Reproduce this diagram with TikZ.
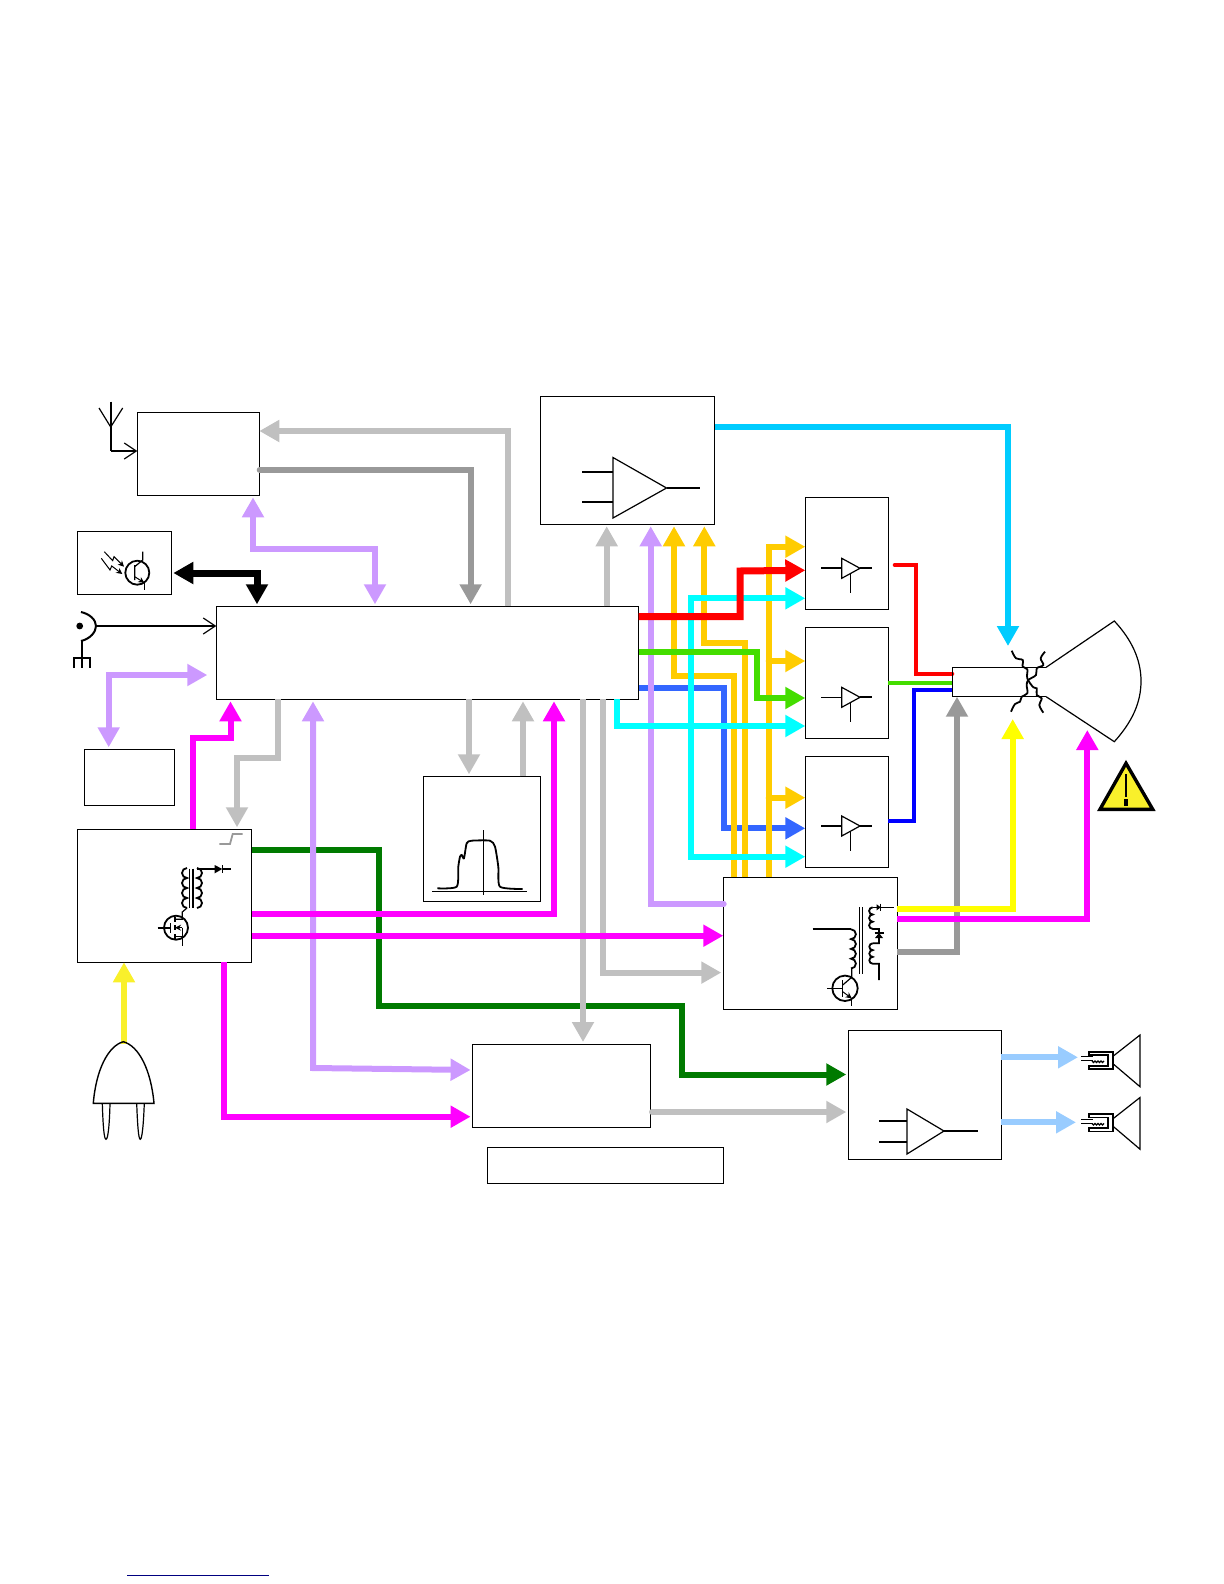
\documentclass[tikz,border=0pt]{standalone}
\usetikzlibrary{arrows.meta}
\definecolor{lgrey}{HTML}{C0C0C0}
\definecolor{dgrey}{HTML}{999999}
\definecolor{lilac}{HTML}{CC99FF}
\definecolor{magent}{HTML}{FF00FF}
\definecolor{dgreen}{HTML}{007A00}
\definecolor{amber}{HTML}{FFCC00}
\definecolor{cyanb}{HTML}{00FFFF}
\definecolor{lime}{HTML}{44DD00}
\definecolor{bluev}{HTML}{3366FF}
\definecolor{skyb}{HTML}{00CCFF}
\definecolor{paleb}{HTML}{99CCFF}
\definecolor{plugy}{HTML}{F9F02B}
\definecolor{yellowb}{HTML}{FFFF00}
\definecolor{navyline}{HTML}{000080}
\begin{document}
\begin{tikzpicture}[x=0.5pt,y=-0.5pt,
  box/.style={draw,line width=0.5pt,inner sep=0pt,outer sep=0pt},
  bus/.style={line width=3pt,-{Triangle[width=10.5pt,length=10pt]},shorten >=1pt},
  dbus/.style={line width=3pt,{Triangle[width=10.5pt,length=10pt]}-{Triangle[width=10.5pt,length=10pt]},shorten >=1pt,shorten <=1pt},
  wire/.style={line width=2pt},
  sym/.style={line width=0.6pt},
  symb/.style={line width=0.9pt},
  open/.style={line width=0.6pt,-{Straight Barb[length=6pt,width=8pt]}},
  small/.style={line width=0.5pt,-{Stealth[length=3pt,width=3pt]}},
  coildn/.pic={\draw[symb] (0,0) arc[start angle=-90,end angle=90,radius=#1] arc[start angle=-90,end angle=90,radius=#1] arc[start angle=-90,end angle=90,radius=#1] arc[start angle=-90,end angle=90,radius=#1];},
  coillf/.pic={\draw[symb] (0,0) arc[start angle=-90,end angle=-270,radius=#1] arc[start angle=-90,end angle=-270,radius=#1] arc[start angle=-90,end angle=-270,radius=#1] arc[start angle=-90,end angle=-270,radius=#1];},
  speaker/.pic={
    \draw[sym] (13.3,-4) -- (40,-25) -- (40,26.7) -- (13.3,4) -- cycle;
    \draw[symb] (-10.7,-8.3) -- (12.7,-8.3) -- (12.7,9) -- (-10.7,9) -- (-10.7,5.7) -- (8.3,5.7) -- (8.3,-5) -- (-10.7,-5) -- cycle;
    \draw[sym] (-19,-3.3) -- (-7,-3.3) (-19,0.7) -- (-7,0.7);
    \draw[sym] (-8,1) arc[start angle=180,end angle=0,radius=1.5] arc[start angle=180,end angle=0,radius=1.5] arc[start angle=180,end angle=0,radius=1.5] arc[start angle=180,end angle=0,radius=1.5] -- (4,1);
  }]
\useasboundingbox (0,0) rectangle (1224,1584);

% boxes
\node[box,minimum width=61pt,minimum height=41.5pt] (tuner) at (198.3,453.8) {};
\node[box,minimum width=47pt,minimum height=31.5pt] (irrx) at (124.3,562.8) {};
\node[box,minimum width=211.2pt,minimum height=46.5pt] (main) at (427.5,652.8) {};
\node[box,minimum width=58.5pt,minimum height=62.5pt] (saw) at (481.8,838.8) {};
\node[box,minimum width=87.2pt,minimum height=66.5pt] (power) at (164.5,895.8) {};
\node[box,minimum width=45pt,minimum height=28pt] (nvm) at (129,777.3) {};
\node[box,minimum width=86.85pt,minimum height=63.65pt] (video) at (627.8,460.6) {};
\node[box,minimum width=41.5pt,minimum height=56.15pt] (rdrv) at (846.8,553.2) {};
\node[box,minimum width=41.5pt,minimum height=55.5pt] (gdrv) at (846.8,682.8) {};
\node[box,minimum width=41.5pt,minimum height=55.5pt] (bdrv) at (846.8,811.8) {};
\node[box,minimum width=87pt,minimum height=66.35pt] (hvout) at (810.3,943.6) {};
\node[box,minimum width=88.9pt,minimum height=41.5pt] (sndif) at (561.5,1085.5) {};
\node[box,minimum width=118pt,minimum height=18pt] (caption) at (605.3,1165.3) {};
\node[box,minimum width=76.5pt,minimum height=64.5pt] (audio) at (924.8,1094.8) {};
\node[inner sep=0pt,outer sep=0pt,minimum width=46.9pt,minimum height=14.7pt] (neck) at (999.2,682) {};
\coordinate (yokein) at (1008,648);
\coordinate (focusin) at (1012.7,717);
\coordinate (anodein) at (1087.3,728);
\coordinate (spkone) at (1080,1057.3);
\coordinate (spktwo) at (1078,1122.3);

% around the main box
\draw[bus,dgreen] (power.east |- 0,850) -| (378.7,1006) -| (681.7,1074.5) -- (audio.west |- 0,1074.5);
\draw[bus,lgrey,shorten >=0pt] (main.north -| 508,0) |- (tuner.east |- 0,431);
\draw[bus,dgrey,line cap=round] (259.7,470) -- (470.6,470) -- (main.north -| 470.6,0);
\draw[dbus,lilac] (tuner.south -| 253,0) |- (375,549) -- (main.north -| 375,0);
\draw[dbus,black,line width=3.5pt] (irrx.east |- 0,573) -| (main.north -| 257,0);
\draw[dbus,lilac,shorten <=4.5pt] (main.west |- 0,675) -| (nvm.north -| 108.7,0);
\draw[bus,lgrey] (main.south -| 278,0) |- (237,757.5) -- (power.north -| 237,0);
\draw[bus,lgrey] (main.south -| 469,0) -- (saw.north -| 469,0);
\draw[bus,lgrey] (saw.north -| 523,0) -- (main.south -| 523,0);
\draw[dbus,lilac] (main.south -| 313,0) -- (313,1068) -- (sndif.west |- 0,1070);
\draw[bus,lgrey] (main.south -| 583,0) -- (sndif.north -| 583,0);
\draw[bus,lgrey] (main.north -| 606.7,0) -- (video.south -| 606.7,0);
\draw[bus,lgrey] (main.south -| 603,0) |- (hvout.west |- 0,972.6);
\draw[bus,magent] (power.north -| 193,0) |- (230.5,738) -- (main.south -| 230.5,0);
\draw[bus,magent] (power.east |- 0,913.7) -| (main.south -| 554,0);
\draw[bus,magent,shorten >=0pt] (power.east |- 0,935.7) -- (hvout.west |- 0,935.7);
\draw[bus,magent] (power.south -| 224,0) |- (sndif.west |- 0,1116.7);
\draw[bus,plugy,shorten >=0pt] (124,1044) -- (power.south -| 124,0);
\draw[bus,lgrey,line cap=round] (652,1112) -- (audio.west |- 0,1112);
\draw[bus,paleb] (audio.east |- 0,1057.3) -- (spkone);
\draw[bus,paleb] (audio.east |- 0,1122.3) -- (spktwo);

% video signals
\draw[bus,bluev,shorten >=0pt] (main.east |- 0,688.3) -| (724,828.3) -- (bdrv.west |- 0,828.3);
\draw[bus,lilac,line cap=round] (723.7,904) -| (video.south -| 650.7,0);
\draw[bus,amber] (hvout.north -| 734.3,0) |- (674,675.7) -- (video.south -| 674,0);
\draw[bus,amber] (hvout.north -| 745,0) |- (704.3,642.7) -- (video.south -| 704.3,0);
\draw[bus,amber,shorten >=0pt] (hvout.north -| 768.7,0) |- (rdrv.west |- 0,546.7);
\draw[bus,amber,line cap=round,shorten >=0pt] (768.7,661) -- (gdrv.west |- 0,661);
\draw[bus,amber,line cap=round,shorten >=0pt] (768.7,797.7) -- (bdrv.west |- 0,797.7);
\draw[bus,cyanb,shorten >=0pt] (main.south -| 616.7,0) |- (gdrv.west |- 0,726);
\draw[dbus,cyanb,shorten >=0pt,shorten <=0pt] (rdrv.west |- 0,598.3) -| (691,856.7) -- (bdrv.west |- 0,856.7);
\draw[bus,lime,shorten >=0pt] (main.east |- 0,652) -| (756.7,698) -- (gdrv.west |- 0,698);
\draw[bus,red,line width=3.5pt,shorten >=0pt] (main.east |- 0,616.7) -| (740,571) -- (rdrv.west |- 0,570.3);
\draw[bus,skyb] (video.east |- 0,427) -| (yokein);
\draw[wire,red,line cap=round] (894.7,565) -| (916,673.7) -- (neck.west |- 0,673.7);
\draw[wire,lime] (gdrv.east |- 0,682.7) -- (neck.west |- 0,682.7);
\draw[wire,blue] (bdrv.east |- 0,820.7) -| (914,690) -- (neck.west |- 0,690);
\draw[bus,dgrey,shorten >=0pt] (hvout.east |- 0,951.7) -| (neck.south -| 957,0);
\draw[bus,yellowb] (hvout.east |- 0,909.3) -| (focusin);
\draw[bus,magent] (hvout.east |- 0,919.3) -| (anodein);

% tube
\draw[sym] (neck.north east) -- (neck.north west) -- (neck.south west) -- (neck.south east);
\draw[sym] (neck.north east) -- (1114.3,621) .. controls (1132,640) and (1141,660) .. (1141,681) .. controls (1141,703) and (1132,722) .. (1114.3,741.7) -- (neck.south east);
\draw[symb] plot[smooth,tension=0.6] coordinates {(1011.7,650.7) (1016,658.3) (1022.7,660) (1022.7,666.7) (1027.3,669.3) (1027.3,678.3) (1033.3,687.3) (1036.7,688.3) (1036.7,695) (1041.7,698.3) (1039.3,705) (1043.3,712.7)};
\draw[symb] plot[smooth,tension=0.6] coordinates {(1045,651.7) (1040.7,658.3) (1043.3,665) (1036.7,668.3) (1036,675) (1028.3,680) (1026.7,685) (1027.3,693.3) (1021.7,696.7) (1020,701.7) (1015,704) (1011,711.7)};
\draw[line width=1.7pt,fill=plugy,line join=miter] (1126,763.3) -- (1100,809.3) -- (1152.7,809.3) -- cycle;
\draw[line width=1.3pt] (1126,774) -- (1126,797);
\draw[line width=2pt] (1126,799) -- (1126,806);

% antenna and socket
\draw[sym] (99,408) -- (110.7,427) -- (122.7,408);
\draw[symb] (110.7,401.7) -- (110.7,451);
\draw[open] (110.7,451) -- (tuner.west |- 0,451);
\fill (79.7,626) circle[radius=3.4];
\draw[line width=1pt] (81,612) .. controls (90,614) and (96,620) .. (96,626) .. controls (96,632) and (90,639) .. (81,641);
\draw[open] (96,626) -- (main.west |- 0,626);
\draw[sym] (82,641) -- (82,668) (74,668) -- (74,658) -- (90,658) -- (90,668);

% ir receiver
\draw[symb] (137.3,572.7) circle[radius=12];
\draw[sym] (134.7,565) -- (134.7,580) (134.7,566.7) -- (142.7,560) -- (142.7,551.7);
\draw[small] (134.7,576.7) -- (144.3,582.7);
\draw[sym] (144.3,582.7) -- (144.3,590);
\draw[small] (104.3,551.7) -- (112.7,560.7) -- (114,556.7) -- (124,566.7);
\draw[small] (101.3,558.3) -- (110,570) -- (111.7,566) -- (122.3,574);

% saw filter
\draw[sym] (432.3,891.3) -- (527,891.3) (483.3,830) -- (483.3,894.7);
\draw[symb] plot[smooth,tension=0.4] coordinates {(437.3,888.3) (456.7,886.7) (458.3,866.7) (460,856.7) (461.7,855) (464,858.3) (466.7,843.3) (471.7,840.7) (490,840.7) (495,846.7) (498.3,866.7) (500,886.7) (522.7,889)};

% power supply
\draw[dgrey,symb] (219.3,844) -- (230,844) -- (232.7,834) -- (242.7,834);
\pic at (187,868) {coillf=5};
\pic at (197,868) {coildn=5};
\draw[sym] (189.3,868.7) -- (189.3,908) (193,868.7) -- (193,908);
\draw[sym] (197,869) -- (214.7,869) (222.3,869) -- (230.7,869) (222.3,865) -- (222.3,873.3);
\fill (214.7,865) -- (214.7,873.3) -- (222.3,869) -- cycle;
\draw[symb] (176,927.7) circle[radius=12];
\draw[sym] (157.7,928) -- (170.7,928) (170.7,923) -- (170.7,933);
\draw[sym] (175,917) -- (175,922) (175,925) -- (175,930) (175,934) -- (175,939);
\draw[sym] (187,908) -- (182.3,912) -- (182.3,919.3) -- (175,919.3);
\draw[sym] (175,936.7) -- (182.3,936.7) -- (182.3,946);
\draw[small] (182.3,927.7) -- (175,927.7);
\draw[sym] (182.3,927.7) -- (182.3,936.7);

% plug
\draw[line width=0.7pt] (93.3,1103.3) .. controls (96,1070) and (108,1046) .. (123.3,1041.7) .. controls (139,1046) and (151,1070) .. (154,1103.3) -- cycle;
\draw[sym] (102.3,1103.3) .. controls (103,1125) and (104,1139.3) .. (106,1139.3) .. controls (108,1139.3) and (109.5,1125) .. (110,1103.3);
\draw[sym] (136.7,1103.3) .. controls (137.5,1125) and (138.5,1139.3) .. (140.3,1139.3) .. controls (142,1139.3) and (143.5,1125) .. (144.3,1103.3);

% amplifiers
\draw[sym] (613,457.5) -- (613,518) -- (666.5,488) -- cycle;
\draw[sym] (582,472) -- (613,472) (582,502) -- (613,502);
\draw[symb] (666.5,488) -- (700,488);
\draw[sym] (907,1109) -- (907,1154) -- (944,1131) -- cycle;
\draw[sym] (879,1121) -- (907,1121) (879,1142) -- (907,1142);
\draw[symb] (944,1131) -- (977.6,1131);
\draw[sym] (841.7,558.3) -- (841.7,578.3) -- (860,568.3) -- cycle;
\draw[symb] (821,568.3) -- (841.7,568.3) (860,568.3) -- (871.7,568.3);
\draw[sym] (850.3,573) -- (850.3,593.3);
\draw[sym] (841.7,687.3) -- (841.7,707.3) -- (860,697.3) -- cycle;
\draw[sym] (821,697.3) -- (841.7,697.3);
\draw[symb] (860,697.3) -- (871.7,697.3);
\draw[sym] (850.3,702) -- (850.3,722.3);
\draw[sym] (841.7,816) -- (841.7,836) -- (860,826) -- cycle;
\draw[symb] (821,826) -- (841.7,826) (860,826) -- (871.7,826);
\draw[sym] (850.3,830.7) -- (850.3,851);

% line output
\draw[symb] (812.7,929.3) -- (851,929.3);
\pic at (851,929.3) {coildn=4.9};
\draw[sym] (859.3,907.3) -- (859.3,974) (862.7,907.3) -- (862.7,974);
\draw[symb] (872.7,907.3) arc[start angle=-90,end angle=-270,radius=3.6] arc[start angle=-90,end angle=-270,radius=3.6] arc[start angle=-90,end angle=-270,radius=3.6] -- (879,928.9) -- (879,943.3) -- (872.7,943.3);
\draw[symb] (872.7,943.3) arc[start angle=-90,end angle=-270,radius=3.4] arc[start angle=-90,end angle=-270,radius=3.4] arc[start angle=-90,end angle=-270,radius=3.4] -- (879,963.7) -- (879,980);
\fill (875,938) -- (883,938) -- (879,933) -- cycle;
\draw[sym] (874.5,933) -- (883.5,933);
\draw[sym] (872.7,907.3) -- (877,907.3) (880.7,903.5) -- (880.7,911) (880.7,907.5) -- (894,907.5);
\fill (876.7,904.3) -- (876.7,910.3) -- (880.7,907.3) -- cycle;
\draw[symb] (845,988.3) circle[radius=12.7];
\draw[sym] (827.3,988.3) -- (842.7,988.3) (842.7,980) -- (842.7,996.7);
\draw[sym] (842.7,985) -- (851.7,977.3) -- (851.7,968.3);
\draw[small] (842.7,991.7) -- (851.7,998.3);
\draw[sym] (851.7,998.3) -- (851.7,1006);

% loudspeakers
\pic at (1100,1060) {speaker};
\pic at (1100,1122.5) {speaker};

\draw[navyline,line width=0.5pt] (127.3,1575) -- (268.7,1575);
\end{tikzpicture}
\end{document}
